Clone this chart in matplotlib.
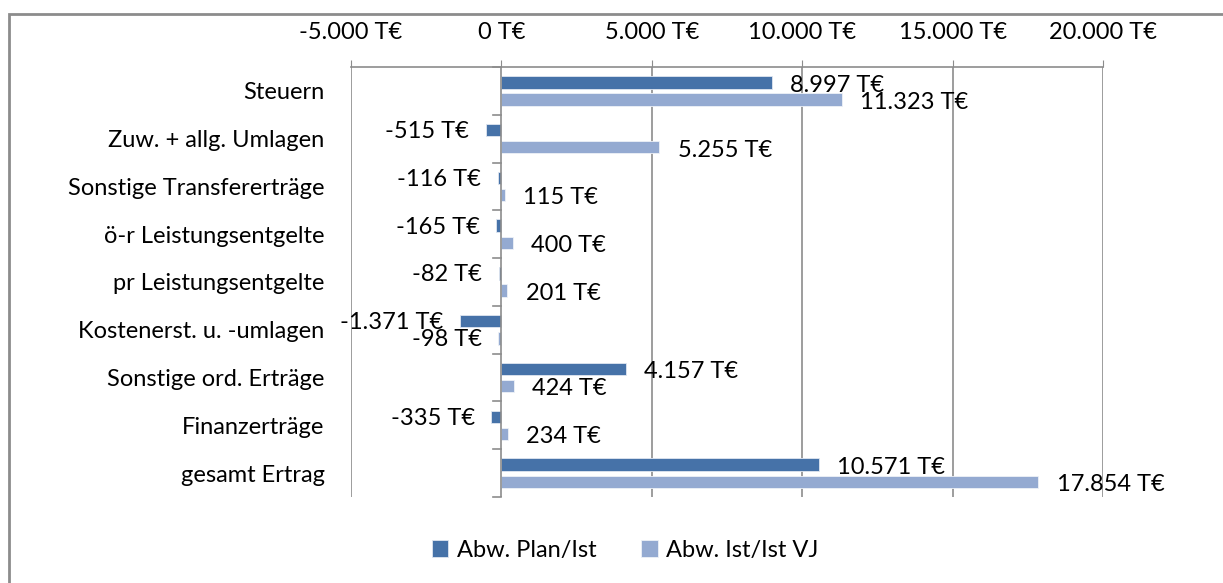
import numpy as np
import matplotlib.pyplot as plt
from matplotlib.patches import Rectangle

# data
categories = ['Steuern', 'Zuw. + allg. Umlagen', 'Sonstige Transfererträge',
              'ö-r Leistungsentgelte', 'pr Leistungsentgelte',
              'Kostenerst. u. -umlagen', 'Sonstige ord. Erträge',
              'Finanzerträge', 'gesamt Ertrag']
plan_ist = [8997, -515, -116, -165, -82, -1371, 4157, -335, 10571]
ist_vj = [11323, 5255, 115, 400, 201, -98, 424, 234, 17854]
series_names = ['Abw. Plan/Ist', 'Abw. Ist/Ist VJ']
xticks = [-5000, 0, 5000, 10000, 15000, 20000]


def fmt(v):
    s = '{:,.0f}'.format(v).replace(',', '.')
    return s + ' T€'


plt.rcParams['font.family'] = ['Lato', 'DejaVu Sans']
fs = 17
col_dark = '#4672A8'
col_light = '#94AAD1'
grid_col = '#8c8c8c'

fig = plt.figure(figsize=(12.23, 5.83), dpi=100)
ax = fig.add_axes([351 / 1223, 1 - 497 / 583, (1103 - 351) / 1223, (497 - 67) / 583])

y = np.arange(len(categories))
h = 0.26
off = 0.18
b1 = ax.barh(y - off, plan_ist, height=h, color=col_dark, edgecolor='#dfe6f0', linewidth=0.6,
             label=series_names[0], zorder=3)
b2 = ax.barh(y + off, ist_vj, height=h, color=col_light, edgecolor='#eef1f7', linewidth=0.6,
             label=series_names[1], zorder=3)

ax.set_xlim(-5000, 20000)
ax.set_ylim(len(categories) - 0.5, -0.5)

# value labels
for vals, ypos in ((plan_ist, y - off), (ist_vj, y + off)):
    for v, yy in zip(vals, ypos):
        if v >= 0:
            ax.annotate(fmt(v), (v, yy), xytext=(13, -2), textcoords='offset points',
                        ha='left', va='center', fontsize=fs, zorder=5)
        else:
            ax.annotate(fmt(v), (v, yy), xytext=(-12, -1), textcoords='offset points',
                        ha='right', va='center', fontsize=fs, zorder=5)

# grid and axes
ax.xaxis.tick_top()
ax.set_xticks(xticks)
ax.set_xticklabels([fmt(t) for t in xticks])
ax.tick_params(axis='x', length=5, color=grid_col, pad=12, labelsize=fs)
for t in xticks:
    ax.axvline(t, color=grid_col, linewidth=1.2, zorder=1 if t != 0 else 4)

ax.set_yticks(y)
ax.set_yticklabels(categories)
ax.tick_params(axis='y', length=0, pad=19, labelsize=fs)

# small tick marks on the zero line between categories
for b in np.arange(-0.5, len(categories) + 0.5, 1.0):
    ax.plot([-270, 0], [b, b], color=grid_col, linewidth=1.2, zorder=4, clip_on=False)

for s in ['left', 'right', 'bottom']:
    ax.spines[s].set_visible(False)
ax.spines['top'].set_color(grid_col)
ax.spines['top'].set_linewidth(1.2)

fig.legend(handles=[b1, b2], labels=series_names, loc='center', bbox_to_anchor=(625 / 1223, 1 - 550 / 583),
           ncol=2, frameon=False, fontsize=fs, handlelength=0.7, handleheight=0.7,
           handletextpad=0.35, columnspacing=1.9)

# outer frame
fig.patches.append(Rectangle((8.5 / 1223, -0.1), 1.2, 1 - 14.5 / 583 + 0.1, transform=fig.transFigure,
                             fill=False, edgecolor=grid_col, linewidth=2))

fig.savefig('out.png', dpi=100)
